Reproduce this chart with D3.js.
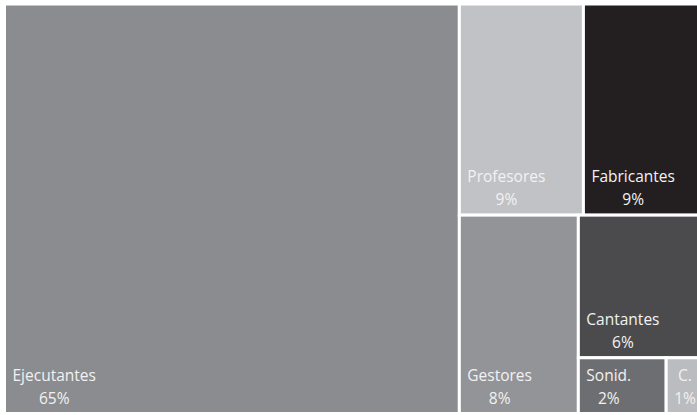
<!DOCTYPE html>
<html>
<head>
<meta charset="utf-8">
<script src="https://cdn.jsdelivr.net/npm/d3@7"></script>
<style>
  body { margin: 0; background: #fff; }
  svg { display: block; }
  .lbl { font-family: "Open Sans", sans-serif; font-size: 15.5px; fill: #f2f2f2; }
</style>
</head>
<body>
<div id="chart"></div>
<script>
// shares, labels show the rounded share
const names = ["Ejecutantes", "Profesores", "Fabricantes", "Gestores", "Cantantes", "Sonid.", "C."]
const shares = [64.7, 9.1, 9.1, 8.2, 6.4, 1.7, 0.8]
const colors = ["#8b8c90", "#c1c2c5", "#231f20", "#939497", "#4b4b4d", "#6d6e71", "#bbbcbf"]

const width = 697
const height = 415
const margin = {top: 4, left: 4.5}
// the plot runs a little past the right edge of the picture
const tmWidth = 703
const tmHeight = 409.5

const svg = d3.select("#chart").append("svg")
    .attr("width", width)
    .attr("height", height)

const data = {
  name: "root",
  children: names.map((n, i) => ({name: n, value: shares[i], color: colors[i]}))
}

const root = d3.hierarchy(data)
    .sum(d => d.value || 0)

d3.treemap()
    .tile(d3.treemapSquarify.ratio(1))
    .size([tmWidth, tmHeight])(root)

const g = svg.append("g")
    .attr("transform", "translate(" + margin.left + "," + margin.top + ")")

const cells = g.selectAll("g.cell")
    .data(root.leaves())
    .join("g")
    .attr("class", "cell")

cells.append("rect")
    .attr("x", d => d.x0)
    .attr("y", d => d.y0)
    .attr("width", d => d.x1 - d.x0)
    .attr("height", d => d.y1 - d.y0)
    .attr("fill", d => d.data.color)
    .attr("stroke", "#fff")
    .attr("stroke-width", 3)

// name and percent stacked, both centred on the wider of the two
cells.each(function(d) {
  const cell = d3.select(this)
  const t1 = cell.append("text").attr("class", "lbl")
      .attr("text-anchor", "middle")
      .attr("y", d.y1 - 33)
      .text(d.data.name)
  const t2 = cell.append("text").attr("class", "lbl")
      .attr("text-anchor", "middle")
      .attr("y", d.y1 - 10)
      .text(Math.round(d.data.value) + "%")
  const w = Math.max(t1.node().getComputedTextLength(), t2.node().getComputedTextLength())
  const cx = d.x0 + 8 + w / 2
  t1.attr("x", cx)
  t2.attr("x", cx)
})
</script>
</body>
</html>
